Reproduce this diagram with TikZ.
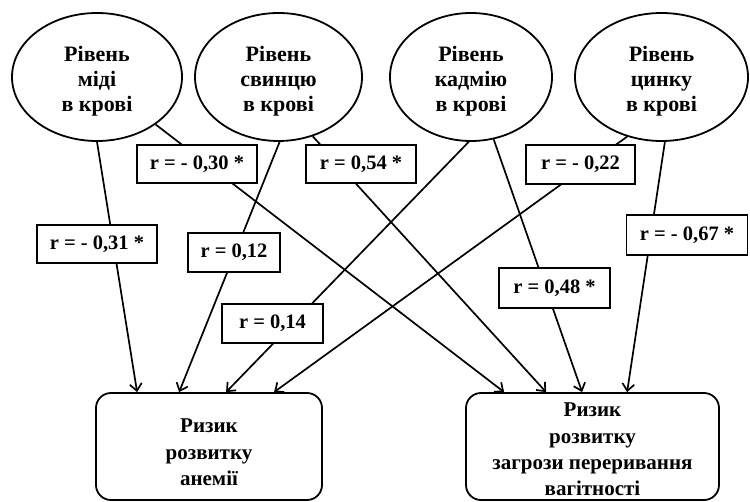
\documentclass[tikz,border=0pt]{standalone}
\usepackage{fontspec}
\setmainfont{Liberation Serif}
\usetikzlibrary{arrows.meta,shapes.geometric}
\begin{document}
\begin{tikzpicture}[x=1pt,y=-1pt,
  oval/.style={ellipse, draw, line width=1.8pt, inner sep=0pt, minimum height=128pt},
  ovaltext/.style={align=center, inner sep=0pt, font=\fontsize{22}{25}\selectfont\bfseries},
  rlabel/.style={rectangle, draw, line width=1.8pt, fill=white, inner sep=0pt,
    minimum height=38pt, font=\fontsize{20.5}{22}\selectfont\bfseries},
  riskbox/.style={rectangle, rounded corners=15pt, draw, line width=1.8pt, inner sep=0pt,
    minimum height=107pt},
  risktext/.style={align=center, inner sep=0pt, font=\fontsize{21}{26.3}\selectfont\bfseries},
  link/.style={line width=1.7pt, -{Straight Barb[length=7pt,width=12pt,line width=1.7pt]}}
]
\useasboundingbox (0,0) rectangle (750,502);

% ellipses
\node[oval, minimum width=170pt] (e1) at (97,77) {};
\node[oval, minimum width=167pt] (e2) at (278.5,77) {};
\node[oval, minimum width=162pt] (e3) at (471,77) {};
\node[oval, minimum width=173pt] (e4) at (661.5,77) {};
\node[ovaltext] (t1) at (97,81.5) {Рівень\\міді\\в крові};
\node[ovaltext] (t2) at (278.5,81.5) {Рівень\\свинцю\\в крові};
\node[ovaltext] (t3) at (471,81.5) {Рівень\\кадмію\\в крові};
\node[ovaltext] (t4) at (661.5,81.5) {Рівень\\цинку\\в крові};

% outcome boxes
\node[riskbox, minimum width=226pt] (anem) at (209,446.5) {};
\node[riskbox, minimum width=253pt] (preg) at (592.5,446.5) {};
\node[risktext] (anemt) at (209,452.5) {Ризик\\розвитку\\анемії};
\node[risktext] (pregt) at (592.5,449.5) {Ризик\\розвитку\\загрози переривання\\вагітності};

% target points on box tops
\coordinate (a1) at ([xshift=42pt]anem.north west);
\coordinate (a2) at ([xshift=84pt]anem.north west);
\coordinate (a3) at ([xshift=131pt]anem.north west);
\coordinate (a4) at ([xshift=179pt]anem.north west);
\coordinate (p1) at ([xshift=39pt]preg.north west);
\coordinate (p2) at ([xshift=81pt]preg.north west);
\coordinate (p3) at ([xshift=117pt]preg.north west);
\coordinate (p4) at ([xshift=162pt]preg.north west);

% connectors
\draw[link] (e1.south) -- (a1);
\draw[link] (e1.-39) -- (p1);
\draw[link] (e2.-89) -- (a2);
\draw[link] (e2.-60) -- (p2);
\draw[link] (e3.-92) -- (a3);
\draw[link] (e3.-70) -- (p3);
\draw[link] (e4.-120) -- (a4);
\draw[link] (e4.-87) -- (p4);

% correlation labels
\node[rlabel, minimum width=120pt] (l030) at (197,164) {r = - 0,30 *};
\node[rlabel, minimum width=110pt] (l054) at (361,164) {r = 0,54 *};
\node[rlabel, minimum width=109pt, minimum height=39pt] (l022) at (580.5,164.5) {r = - 0,22};
\node[rlabel, minimum width=120pt] (l031) at (97,244) {r = - 0,31 *};
\node[rlabel, minimum width=92pt, minimum height=39pt] (l012) at (234,252.5) {r = 0,12};
\node[rlabel, minimum width=101pt, minimum height=39pt] (l014) at (272.5,323.5) {r = 0,14};
\node[rlabel, minimum width=111pt, minimum height=40pt] (l048) at (554.5,288) {r = 0,48 *};
\node[rlabel, minimum width=121pt, minimum height=40pt] (l067) at (687,235) {r = - 0,67 *};
\end{tikzpicture}
\end{document}
